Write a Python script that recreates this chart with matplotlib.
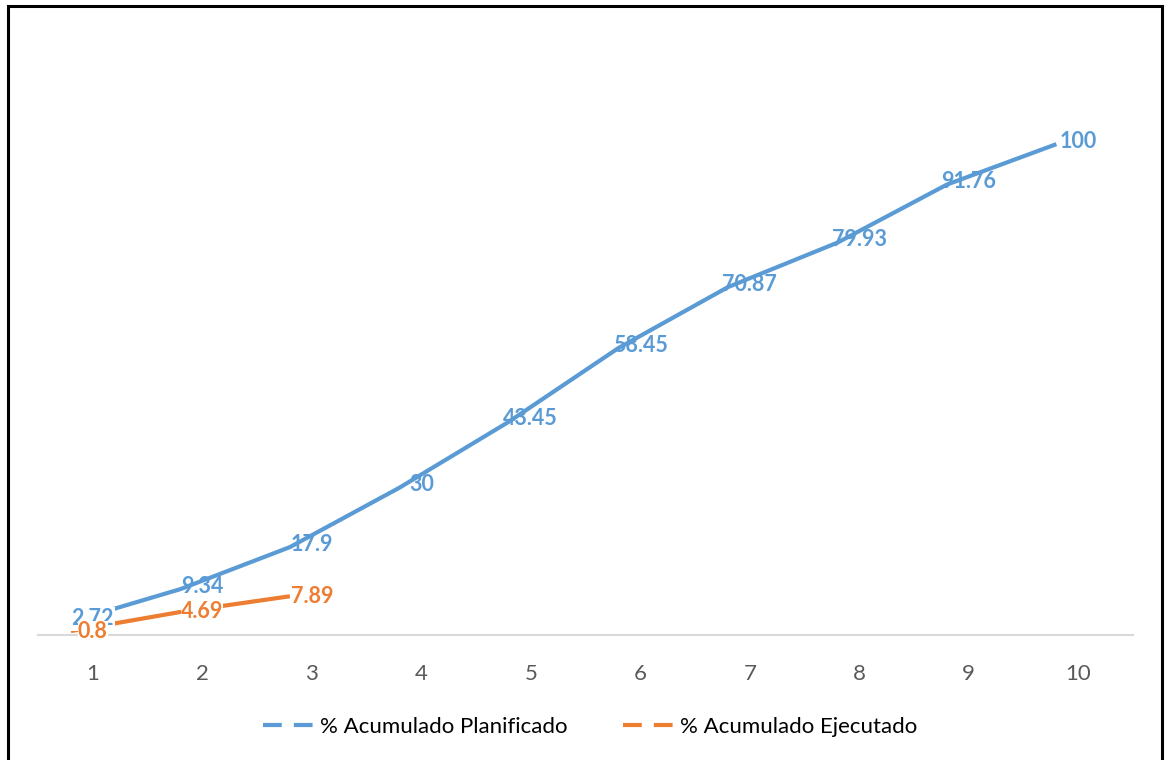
import matplotlib
matplotlib.use("Agg")
import matplotlib.pyplot as plt
from matplotlib.patches import Rectangle
import numpy as np

# datos de avance acumulado (%)
periodos = [1, 2, 3, 4, 5, 6, 7, 8, 9, 10]
planificado = [2.72, 9.34, 17.9, 30, 43.45, 58.45, 70.87, 79.93, 91.76, 100]
ejecutado = [0.8, 4.69, 7.89]
etiquetas_x = [str(p) for p in periodos]

AZUL = "#5B9BD5"
NARANJA = "#ED7D31"
GRIS = "#595959"

plt.rcParams['font.family'] = ['Lato', 'DejaVu Sans']

fig = plt.figure(figsize=(11.67, 7.6), dpi=100)
ax = fig.add_axes([0.0326, 0.1645, 0.9383, 0.775])

# las lineas quedan algo desplazadas respecto a las etiquetas de categoria
desfase = -0.2
x_plan = np.array(periodos) + desfase
x_ejec = np.array(periodos[:len(ejecutado)]) + desfase

ax.plot(x_plan, planificado, color=AZUL, lw=3, solid_capstyle='butt', zorder=2)
ax.plot(x_ejec, ejecutado, color=NARANJA, lw=3, solid_capstyle='butt', zorder=2)

for i, (p, v) in enumerate(zip(periodos, planificado)):
    caja = dict(fc='white', ec='none', pad=1) if i == 0 else None
    ax.annotate(f"{v:g}", (p, v), xytext=(0, 2), textcoords='offset points',
                ha='center', va='center', color=AZUL, fontsize=15.5,
                fontweight='bold', bbox=caja, zorder=3)
for p, v in zip(periodos, ejecutado):
    ax.annotate(f"{v:g}", (p, v), xytext=(0, 0), textcoords='offset points',
                ha='center', va='center', color=NARANJA, fontsize=15.5,
                fontweight='bold', bbox=dict(fc='white', ec='none', pad=0),
                zorder=4)

ax.set_xlim(0.5, 10.5)
ax.set_ylim(0, 120)
ax.set_xticks(periodos)
ax.set_xticklabels(etiquetas_x)
ax.set_yticks([])
ax.tick_params(axis='x', length=0, pad=21, labelsize=16, labelcolor=GRIS)
for lado in ['top', 'right', 'left']:
    ax.spines[lado].set_visible(False)
ax.spines['bottom'].set_color('#D9D9D9')
ax.spines['bottom'].set_linewidth(1.5)

# leyenda con guiones
h1, = ax.plot([], [], color=AZUL, lw=3, dashes=(4.5, 2.9))
h2, = ax.plot([], [], color=NARANJA, lw=3, dashes=(4.5, 2.9))
fig.legend([h1, h2], ["% Acumulado Planificado", "% Acumulado Ejecutado"],
           loc='center', bbox_to_anchor=(590 / 1167, 1 - 727 / 760),
           ncol=2, frameon=False, fontsize=16, handlelength=2.3,
           handletextpad=0.25, columnspacing=2.5, labelcolor='black')

# marco exterior
fig.add_artist(Rectangle((8 / 1167, -0.05), (1162 - 8) / 1167, 1.05 - 6 / 760,
                         transform=fig.transFigure, fill=False,
                         ec='black', lw=2.2))

fig.savefig("out.png", dpi=100, facecolor='white')
